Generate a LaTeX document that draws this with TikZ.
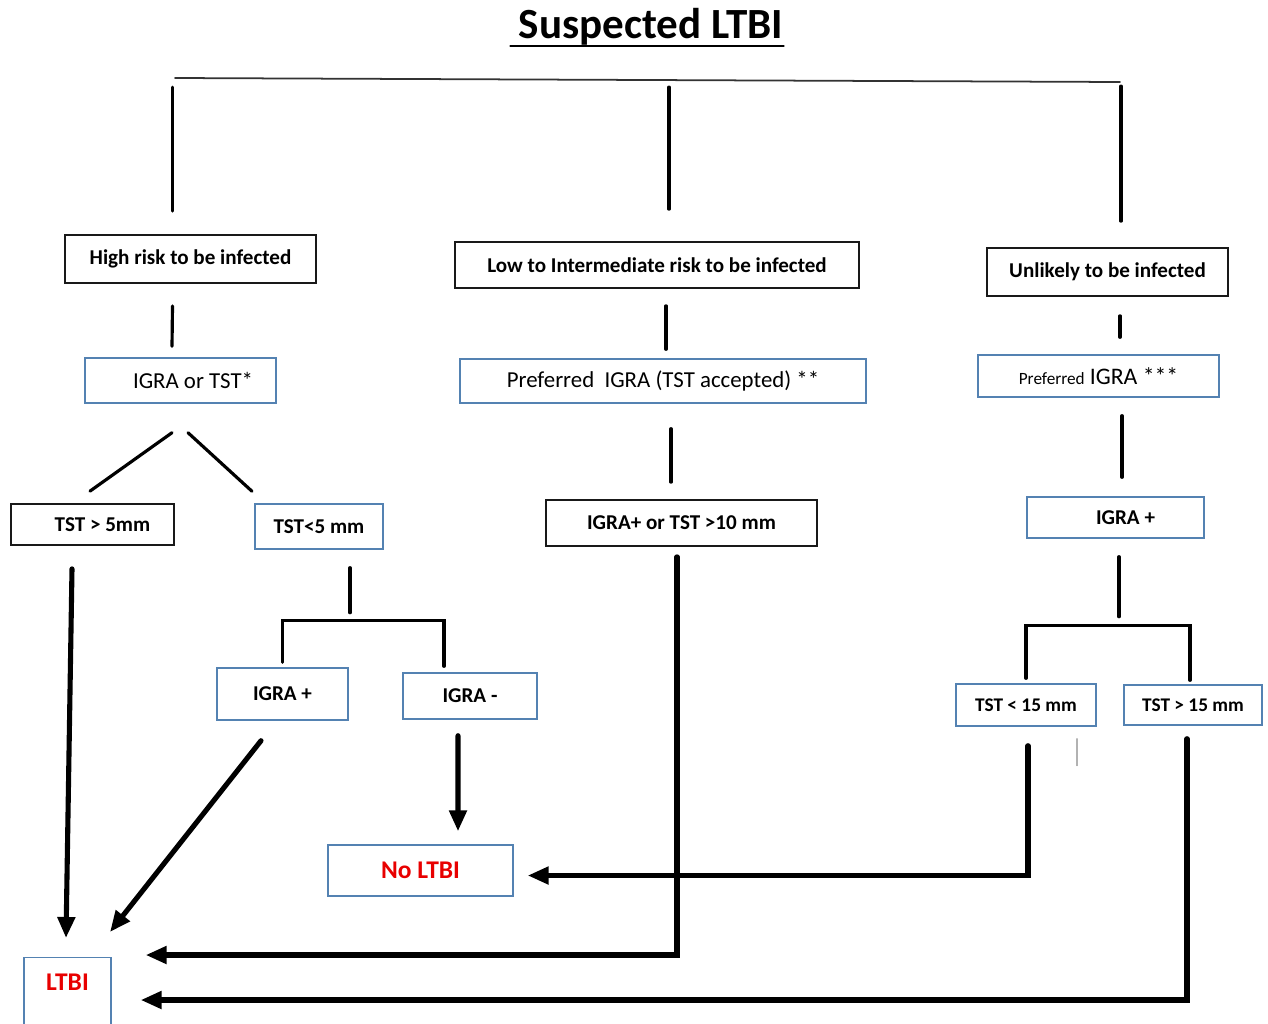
\documentclass[tikz,border=0pt]{standalone}
\usepackage{fontspec}
\setmainfont{Carlito}
\usetikzlibrary{calc,arrows.meta}

\definecolor{boxblue}{RGB}{84,130,178}
\definecolor{ltbired}{RGB}{232,0,0}

\begin{document}
\begin{tikzpicture}[x=0.2mm,y=0.2mm,cap=round,
  blackbox/.style={draw=black!90,line width=1pt,inner sep=0pt,font=\fontsize{12}{14}\selectfont\bfseries},
  bluebox/.style={draw=boxblue,line width=0.8pt,inner sep=0pt,font=\fontsize{12}{14}\selectfont\bfseries},
  plainbox/.style={bluebox,font=\fontsize{13}{15}\selectfont},
  smallbox/.style={bluebox,font=\fontsize{11}{13}\selectfont\bfseries},
  link/.style={line width=1.8pt},
  arrow/.style={line width=2.9pt,-{Triangle[length=4.2mm,width=3.4mm]}}]

\useasboundingbox (0,0) rectangle (1268,-1023);

\node[anchor=base,inner sep=0pt,font=\fontsize{24.5}{28}\selectfont\bfseries] (ttl) at (651,-38) {Suspected LTBI};
\draw[line width=1.5pt] ($(ttl.base west)+(-8,-8)$) -- ($(ttl.base east)+(0,-8)$);

\coordinate (barL) at (175,-78);
\coordinate (barR) at (1120,-82);
\draw[line width=1pt,black!80] (barL) -- (barR);

\node[blackbox,minimum width=50.2mm,minimum height=9.6mm] (hi) at (190.5,-259) {High risk to be infected};
\node[blackbox,minimum width=80.8mm,minimum height=9.2mm] (low) at (657,-265) {Low to Intermediate risk to be infected\hspace{2mm}};
\node[blackbox,minimum width=48.2mm,minimum height=9.6mm] (unl) at (1107.5,-272) {Unlikely to be infected};

\node[plainbox,minimum width=38.2mm,minimum height=9mm] (igra) at (180.5,-380.5) {\hspace{5mm}IGRA or TST*};
\node[plainbox,minimum width=81.2mm,minimum height=8.8mm] (pref) at (663,-381) {Preferred\ \ IGRA (TST accepted) **};
\node[plainbox,minimum width=48.2mm,minimum height=8.4mm] (prefu) at (1098.5,-376) {{\fontsize{9.8}{12}\selectfont Preferred}\ {\fontsize{13.5}{15}\selectfont IGRA ***}};

\node[blackbox,minimum width=32.6mm,minimum height=8.2mm] (tgt5) at (92.5,-524.5) {\hspace{4mm}TST > 5mm};
\node[bluebox,minimum width=25.6mm,minimum height=9mm] (tlt5) at (319,-526.5) {TST<5 mm};
\node[blackbox,minimum width=54.2mm,minimum height=9.2mm] (tgt10) at (681.5,-523) {IGRA+ or TST >10 mm\hspace{7mm}};
\node[bluebox,minimum width=35.4mm,minimum height=8.2mm] (igrapr) at (1115.5,-517.5) {\hspace{4mm}IGRA +};

\node[bluebox,minimum width=26.2mm,minimum height=10.4mm] (igrap) at (282.5,-694) {IGRA +};
\node[bluebox,minimum width=26.8mm,minimum height=9.2mm] (igram) at (470,-696) {IGRA -};
\node[smallbox,minimum width=28mm,minimum height=8.4mm] (tlt15) at (1026,-705) {TST < 15 mm};
\node[smallbox,minimum width=27.6mm,minimum height=8mm] (tgt15) at (1193,-705) {TST > 15 mm};

\node[bluebox,minimum width=37mm,minimum height=10.2mm,text=ltbired,font=\fontsize{14.5}{16}\selectfont\bfseries] (noltbi) at (420.5,-870.5) {No LTBI};
\node[bluebox,anchor=north,minimum width=17.4mm,text height=6.6mm,text depth=9mm,text=ltbired,font=\fontsize{14.5}{16}\selectfont\bfseries] (ltbi) at (67.5,-957) {LTBI};

\draw[link] ($(hi.north)+(-18,147)$) -- ($(hi.north)+(-18,23)$);
\draw[link] ($(low.north)+(12,154)$) -- ($(low.north)+(12,32)$);
\draw[link] ($(unl.north)+(13.5,161)$) -- ($(unl.north)+(13.5,26)$);

\draw[link] ($(hi.south)+(-18,-22)$) -- ($(igra.north)+(-8.5,11)$);
\draw[link] ($(low.south)+(9,-17)$) -- ($(pref.north)+(3,9)$);
\draw[link] ($(unl.south)+(12.5,-19)$) -- ($(prefu.north)+(21.5,17)$);

\draw[link] ($(igra.south)+(-8.5,-29)$) -- ($(tgt5.north)+(-2.5,12)$);
\draw[link] ($(igra.south)+(7.5,-29)$) -- ($(tlt5.north)+(-67,12)$);
\draw[link] ($(pref.south)+(8,-25)$) -- ($(tgt10.north)+(-10.5,17)$);
\draw[link] ($(prefu.south)+(23.5,-18)$) -- ($(igrapr.north)+(6.5,19)$);

\draw[link] ($(tlt5.south)+(31,-18)$) -- ($(tlt5.south)+(31,-63)$);
\draw[link] ($(igrap.north)+(0,5)$) |- ($(igram.north)+(-26,52)$) -- ($(igram.north)+(-26,6)$);

\draw[link] ($(igrapr.south)+(3.5,-18)$) -- ($(igrapr.south)+(3.5,-78)$);
\draw[link] ($(tlt15.north)+(0,5)$) |- ($(tgt15.north)+(-3,59)$) -- ($(tgt15.north)+(-3,4)$);
\draw[gray!60,line width=0.6pt] ($(tlt15.south)+(51,-12)$) -- ++(0,-27);

\draw[arrow] ($(tgt5.south)+(-20.5,-23)$) -- ($(ltbi.north)+(-1.5,19)$);
\draw[arrow] ($(igrap.south)+(-21.5,-20)$) -- ($(ltbi.north)+(42.5,25)$);
\draw[arrow] ($(igram.south)+(-12,-16)$) -- ($(noltbi.north)+(37.5,13)$);
\draw[arrow] ($(tgt10.south)+(-4.5,-10)$) |- ($(ltbi.north east)+(34,2)$);
\draw[arrow] ($(tlt15.south)+(2,-19)$) |- ($(noltbi.east)+(14,-5)$);
\draw[arrow] ($(tgt15.south)+(-6,-13)$) |- ($(ltbi.north east)+(29,-43)$);

\end{tikzpicture}
\end{document}
